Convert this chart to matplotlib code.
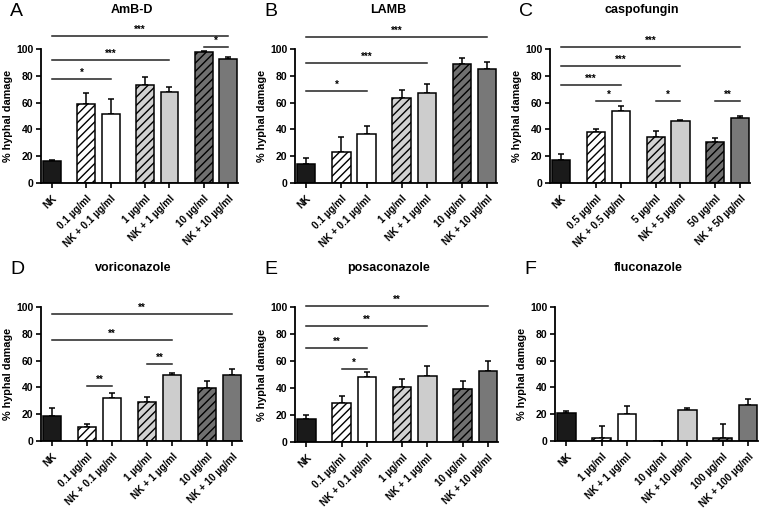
import numpy as np
import matplotlib
matplotlib.use("Agg")
import matplotlib.pyplot as plt

plt.rcParams['font.family'] = ['Liberation Sans', 'DejaVu Sans']
plt.rcParams['hatch.linewidth'] = 1.0

# data (mean and upper error)
labels_std = ['NK', '0.1 µg/ml', 'NK + 0.1 µg/ml', '1 µg/ml', 'NK + 1 µg/ml',
              '10 µg/ml', 'NK + 10 µg/ml']
labels_caspo = ['NK', '0.5 µg/ml', 'NK + 0.5 µg/ml', '5 µg/ml', 'NK + 5 µg/ml',
                '50 µg/ml', 'NK + 50 µg/ml']
labels_fluco = ['NK', '1 µg/ml', 'NK + 1 µg/ml', '10 µg/ml', 'NK + 10 µg/ml',
                '100 µg/ml', 'NK + 100 µg/ml']

amb_mean = [16.2, 59.2, 51.2, 73.4, 68.2, 98.0, 92.8]
amb_err = [1.2, 8.0, 11.2, 5.7, 3.7, 0.5, 1.0]
lamb_mean = [14.2, 23.1, 36.6, 63.2, 67.2, 89.0, 85.3]
lamb_err = [4.2, 10.9, 5.7, 6.0, 6.4, 4.0, 4.7]
caspo_mean = [17.4, 38.3, 53.7, 34.6, 46.3, 30.3, 48.3]
caspo_err = [4.0, 1.7, 3.8, 4.0, 0.5, 3.0, 1.9]
vori_mean = [18.9, 10.4, 31.8, 29.3, 49.1, 39.7, 49.1]
vori_err = [5.4, 2.0, 4.2, 3.5, 1.5, 5.2, 5.0]
posa_mean = [17.2, 28.9, 48.3, 40.4, 48.8, 39.2, 52.9]
posa_err = [3.1, 5.1, 3.4, 6.6, 7.3, 5.9, 6.9]
fluco_mean = [21.1, 2.5, 20.3, 0.0, 23.1, 2.5, 27.0]
fluco_err = [1.2, 8.7, 5.5, 0.0, 1.2, 9.9, 4.0]

# significance brackets: (from bar, to bar, height, stars)
amb_sig = [(0, 6, 110, '***'), (0, 4, 91.5, '***'), (0, 2, 77.9, '*'), (5, 6, 101.5, '*')]
lamb_sig = [(0, 6, 108.7, '***'), (0, 4, 89.3, '***'), (0, 2, 68.7, '*')]
caspo_sig = [(0, 6, 101.7, '***'), (0, 4, 87.3, '***'), (0, 2, 73.1, '***'),
             (1, 2, 61, '*'), (3, 4, 61, '*'), (5, 6, 61, '**')]
vori_sig = [(0, 6, 94.8, '**'), (0, 4, 75.2, '**'), (3, 4, 57.3, '**'), (1, 2, 41.2, '**')]
posa_sig = [(0, 6, 100.7, '**'), (0, 4, 86, '**'), (0, 2, 69.4, '**'), (1, 2, 54.4, '*')]
fluco_sig = []

positions = [0, 1.4, 2.4, 3.8, 4.8, 6.2, 7.2]
colors = ['#1a1a1a', 'white', 'white', '#d2d2d2', '#cdcdcd', '#707070', '#787878']
hatches = ['', '////', '', '////', '', '////', '']

W, H = 760, 508
fig = plt.figure(figsize=(W / 100, H / 100), dpi=100)

panels = [
    ('A', 'AmB-D', labels_std, amb_mean, amb_err, amb_sig, (41, 238, 49, 183)),
    ('B', 'LAMB', labels_std, lamb_mean, lamb_err, lamb_sig, (295, 497, 49, 183)),
    ('C', 'caspofungin', labels_caspo, caspo_mean, caspo_err, caspo_sig, (550, 750, 49, 183)),
    ('D', 'voriconazole', labels_std, vori_mean, vori_err, vori_sig, (41, 242, 307, 441)),
    ('E', 'posaconazole', labels_std, posa_mean, posa_err, posa_sig, (295, 498, 307, 442)),
    ('F', 'fluconazole', labels_fluco, fluco_mean, fluco_err, fluco_sig, (555, 758, 307, 441)),
]

for letter, title, labels, mean, err, sig, (l, r, t, b) in panels:
    ax = fig.add_axes([l / W, 1 - b / H, (r - l) / W, (b - t) / H])
    ax.bar(positions, mean, width=0.73, color=colors, edgecolor='black',
           linewidth=1.1, zorder=2)
    for p, h in zip(ax.patches, hatches):
        p.set_hatch(h)
    ax.errorbar(positions, mean, yerr=[np.zeros(len(err)), err], fmt='none',
                ecolor='black', elinewidth=1.1, capsize=2.5, capthick=1.1, zorder=1)
    for i, j, y, stars in sig:
        ax.plot([positions[i], positions[j]], [y, y], color='#222222', lw=1.1,
                clip_on=False)
        ax.text((positions[i] + positions[j]) / 2, y + 0.8, stars, ha='center',
                va='bottom', fontsize=7, fontweight='bold')
    ax.set_xlim(-0.45, 7.6)
    ax.set_ylim(0, 100)
    ax.set_yticks([0, 20, 40, 60, 80, 100])
    ax.set_xticks(positions)
    ax.set_xticklabels(labels, rotation=45, ha='right', rotation_mode='anchor',
                       fontsize=7.2, fontweight='bold')
    for lab in ax.get_yticklabels():
        lab.set_fontweight('bold')
        lab.set_fontsize(7.5)
    for s in ['top', 'right']:
        ax.spines[s].set_visible(False)
    for s in ['left', 'bottom']:
        ax.spines[s].set_linewidth(1.3)
    ax.tick_params(direction='out', length=3.5, width=1.2, pad=2)
    ax.tick_params(axis='x', pad=4)
    ax.set_ylabel('% hyphal damage', fontsize=7.8, fontweight='bold')
    ax.yaxis.set_label_coords(-28 / (r - l), 0.5)
    ax.text(0.46, (b - (t - 39)) / (b - t), title, transform=ax.transAxes,
            fontsize=9, fontweight='bold', ha='center', va='center')
    fig.text((l - 31) / W, 1 - (t - 37) / H, letter, fontsize=14,
             ha='left', va='center')

fig.savefig('out.png', dpi=100)
